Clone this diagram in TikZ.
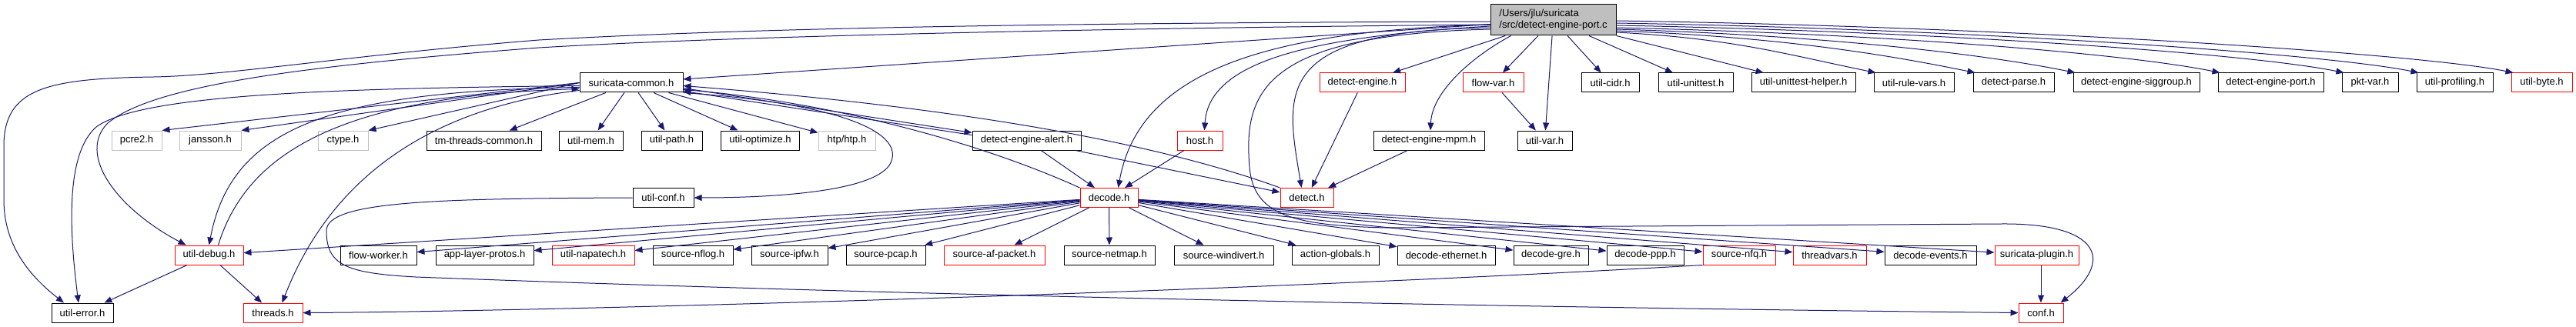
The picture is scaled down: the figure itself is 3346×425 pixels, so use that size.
\documentclass[tikz,border=0pt]{standalone}
\usepackage{fontspec}
\setmainfont{Liberation Sans}
\usetikzlibrary{arrows.meta}
\definecolor{edgeblue}{HTML}{191970}
\definecolor{sysgrey}{HTML}{BFBFBF}
\newcommand{\hdrfont}{\fontsize{13}{15}\selectfont}
\tikzset{
  hdr/.style={draw=black,line width=1pt,minimum height=25,inner sep=0pt,font=\hdrfont},
  dep/.style={->,draw=edgeblue,line width=1pt},
}
\begin{document}
\begin{tikzpicture}[x=1pt,y=-1pt,>={Triangle[length=10pt,width=8pt]}]
    \useasboundingbox (0,0) rectangle (3346,425);

    % Fichero raiz.
    \node[hdr,fill=sysgrey,minimum width=163,minimum height=40,align=left] (main)
        at (2017.5,26) {/Users/jlu/suricata\\/src/detect-engine-port.c};

    % Cabeceras, fila por fila.
    \foreach \n/\c/\x/\w/\t in {sc/black/820/134/suricata-common.h,
        deteng/red/1769.5/111/detect-engine.h, flowvar/red/1939.5/79/flow-var.h,
        cidr/black/2091.5/75/util-cidr.h, unittest/black/2202.5/97/util-unittest.h,
        uthelper/black/2342.5/135/util-unittest-helper.h,
        rulevars/black/2486/104/util-rule-vars.h, detparse/black/2615.5/105/detect-parse.h,
        siggroup/black/2775/164/detect-engine-siggroup.h,
        detport/black/2949.5/137/detect-engine-port.h, pktvar/black/3078.5/73/pkt-var.h,
        profiling/black/3188.5/99/util-profiling.h, utilbyte/red/3301.5/79/util-byte.h}{
        \node[hdr,draw=\c,minimum width=\w] (\n) at (\x,107.5) {\t};
    }
    \foreach \n/\c/\x/\w/\t in {pcre/sysgrey/177.5/65/pcre2.h, jansson/sysgrey/273/80/jansson.h,
        ctype/sysgrey/445.5/65/ctype.h, tmthreads/black/628.5/149/tm-threads-common.h,
        utilmem/black/767.5/83/util-mem.h, utilpath/black/872.5/79/util-path.h,
        optimize/black/987.5/102/util-optimize.h, alert/black/1333.5/141/detect-engine-alert.h,
        host/red/1558.5/59/host.h, mpm/black/1856/144/detect-engine-mpm.h,
        utilvar/black/2006.5/71/util-var.h}{
        \node[hdr,draw=\c,minimum width=\w] (\n) at (\x,182.5) {\t};
    }
    \node[hdr,draw=sysgrey,minimum width=74] (htp) at (1100,182.5) {htp/htp.h};
    \foreach \n/\c/\x/\w/\t in {utilconf/black/861.5/79/util-conf.h,
        decode/red/1440.5/75/decode.h, detect/red/1697.5/69/detect.h}{
        \node[hdr,draw=\c,minimum width=\w] (\n) at (\x,257) {\t};
    }
    \foreach \n/\c/\x/\w/\t in {udebug/red/271.5/89/util-debug.h,
        flowworker/black/491.5/99/flow-worker.h, alproto/black/629.5/127/app-layer-protos.h,
        napatech/red/770.5/107/util-napatech.h, nflog/black/900/104/source-nflog.h,
        ipfw/black/1025.5/99/source-ipfw.h, pcap/black/1150.5/103/source-pcap.h,
        afpacket/red/1291.5/131/source-af-packet.h, netmap/black/1441/118/source-netmap.h,
        windivert/black/1589.5/129/source-windivert.h,
        actglobals/black/1734.5/113/action-globals.h,
        ethernet/black/1878.5/127/decode-ethernet.h, gre/black/2014.5/97/decode-gre.h,
        ppp/black/2137/100/decode-ppp.h, nfq/red/2259/94/source-nfq.h,
        threadvars/red/2376.5/95/threadvars.h, events/black/2507.5/119/decode-events.h,
        plugin/red/2645.5/109/suricata-plugin.h}{
        \node[hdr,draw=\c,minimum width=\w] (\n) at (\x,331.5) {\t};
    }
    \foreach \n/\c/\x/\w/\t in {uerror/black/107/80/util-error.h,
        threads/red/354.5/77/threads.h, conf/red/2651/58/conf.h}{
        \node[hdr,draw=\c,minimum width=\w] (\n) at (\x,406.5) {\t};
    }

    % Inclusiones directas del fichero raiz.
    \foreach \t in {sc,deteng,flowvar,utilvar,cidr,unittest,uthelper}{
        \draw[dep] (main) -- (\t);
    }
    \foreach \t/\d/\a/\b in {rulevars/16/2251/2317, detparse/14/2309/2446,
        siggroup/12/2368/2576, detport/10/2452/2764, pktvar/7/2525/2925,
        profiling/4/2568/3022, utilbyte/1/2624/3145}{
        \draw[dep] ([yshift=-\d pt]main.east) .. controls (\a,34+\d) and (\b,70)
            .. ([xshift=3pt]\t.north west);
    }
    \draw[dep] ([yshift=-2pt]main.west) .. controls (1300,30) and (950,38) .. (700,52)
        .. controls (450,72) and (300,98) .. (200,100)
        .. controls (60,102) and (5,115) .. (5,190) -- (5,260)
        .. controls (5,320) and (40,360) .. ([xshift=-24pt]uerror.north);
    \draw[dep] ([yshift=-6pt]main.west) .. controls (1300,38) and (900,50) .. (700,62)
        .. controls (400,85) and (200,110) .. (140,160)
        .. controls (100,200) and (150,270) .. ([xshift=-30pt]udebug.north);
    \draw[dep] ([yshift=-10pt]main.west) .. controls (1650,40) and (1670,120)
        .. ([xshift=-7pt]detect.north);
    \draw[dep] ([yshift=-12pt]main.west) .. controls (1640,45) and (1615,120) .. (1623,217)
        .. controls (1628,280) and (1680,293) .. (1800,296) -- (2600,291)
        .. controls (2730,290) and (2745,340) .. ([xshift=-4pt]conf.north east);
    \draw[dep] ([yshift=-6pt]main.west) .. controls (1650,40) and (1480,90)
        .. ([xshift=12pt]decode.north);
    \draw[dep] ([yshift=-8pt]main.west) .. controls (1700,48) and (1570,80)
        .. ([xshift=6pt]host.north);
    \draw[dep] ([xshift=-55pt]main.south) .. controls (1910,75) and (1860,120)
        .. ([xshift=2pt]mpm.north);

    % suricata-common.h
    \foreach \t in {tmthreads,utilmem,utilpath,optimize,htp}{
        \draw[dep] (sc) -- (\t);
    }
    \foreach \t in {pcre,jansson,ctype}{
        \draw[dep] (sc.west) -- (\t.north east);
    }
    \draw[dep] ([yshift=-7pt]sc.east) -- ([yshift=-3pt]alert.north west);
    \draw[dep] ([yshift=-6pt]alert.north west) -- ([yshift=-11pt]sc.east);
    \draw[dep] ([yshift=-4pt]sc.west) .. controls (400,115) and (180,125) .. (125,165)
        .. controls (85,200) and (90,300) .. ([xshift=-5pt]uerror.north);
    \draw[dep] ([yshift=-6pt]sc.west) .. controls (420,118) and (300,170) .. (udebug.north);
    \draw[dep] ([xshift=12pt]udebug.north) .. controls (320,200) and (440,125)
        .. ([yshift=-8pt]sc.west);
    \draw[dep] ([yshift=-10pt]sc.west) .. controls (560,140) and (430,230)
        .. ([xshift=12pt]threads.north);
    \draw[dep] (sc.south east) .. controls (1100,135) and (1180,175) .. (1155,215)
        .. controls (1130,250) and (1000,257) .. (utilconf.east);
    \draw[dep] (decode.north west) .. controls (1250,175) and (1050,130)
        .. ([yshift=-9pt]sc.east);
    \draw[dep] (detect.north west) .. controls (1500,185) and (1250,140)
        .. ([yshift=-4pt]sc.east);

    % Resto de dependencias.
    \draw[dep] (alert) -- (decode);
    \draw[dep] (alert) -- (detect);
    \draw[dep] (host) -- (decode);
    \draw[dep] (deteng) -- (detect);
    \draw[dep] (mpm) -- (detect);
    \draw[dep] (flowvar) -- (utilvar);
    \foreach \t in {udebug,flowworker,alproto,napatech,nflog,ipfw,pcap,afpacket,netmap,
        windivert,actglobals,ethernet,gre,ppp,nfq,threadvars,events,plugin}{
        \draw[dep] (decode) -- (\t);
    }
    \draw[dep] (udebug) -- (uerror);
    \draw[dep] (udebug) -- (threads);
    \draw[dep] (plugin.south -| conf.north) -- (conf.north);
    \draw[dep] (nfq.south west) .. controls (1600,380) and (700,405) .. (threads.east);
    \draw[dep] (utilconf.west) .. controls (560,258) and (424,262) .. (424,300)
        .. controls (424,345) and (450,355) .. (540,360)
        .. controls (1200,385) and (2000,400) .. (conf.west);
\end{tikzpicture}
\end{document}
